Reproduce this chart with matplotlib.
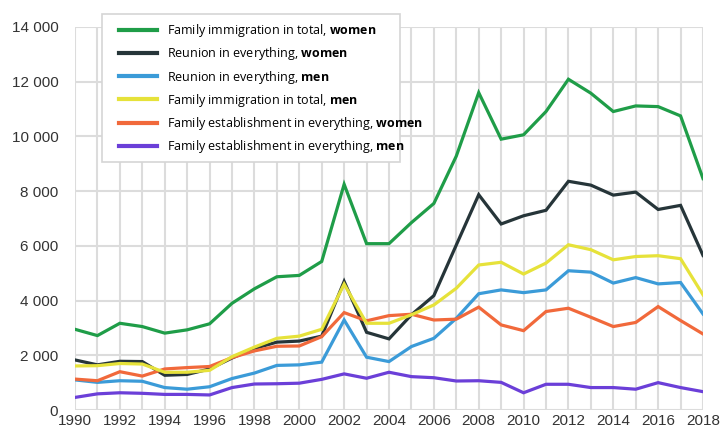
import numpy as np
import matplotlib
matplotlib.use('Agg')
import matplotlib.pyplot as plt
from matplotlib.patches import Rectangle
from matplotlib.ticker import FuncFormatter, MultipleLocator

plt.rcParams['font.family'] = ['Liberation Sans', 'DejaVu Sans']
plt.rcParams['mathtext.fontset'] = 'custom'
plt.rcParams['mathtext.rm'] = 'Open Sans'
plt.rcParams['mathtext.bf'] = 'Open Sans:bold'

years = np.arange(1990, 2019)

# Family immigration in total, women
total_women = [2950, 2720, 3170, 3050, 2810, 2930, 3150, 3900, 4430, 4870,
               4920, 5430, 8250, 6080, 6080, 6850, 7550, 9280, 11600, 9900,
               10060, 10910, 12090, 11580, 10910, 11115, 11090, 10750, 8460]
# Reunion in everything, women
reunion_women = [1830, 1650, 1780, 1770, 1270, 1300, 1500, 1900, 2250, 2480,
                 2520, 2700, 4700, 2840, 2600, 3480, 4180, 6030, 7870, 6800,
                 7100, 7300, 8360, 8220, 7855, 7965, 7330, 7480, 5650]
# Reunion in everything, men
reunion_men = [1100, 1010, 1070, 1050, 820, 760, 850, 1150, 1350, 1630,
               1650, 1750, 3290, 1930, 1770, 2320, 2620, 3350, 4250, 4390,
               4290, 4390, 5090, 5040, 4640, 4840, 4610, 4660, 3510]
# Family immigration in total, men
total_men = [1610, 1620, 1700, 1680, 1380, 1380, 1450, 1950, 2300, 2620,
             2700, 2950, 4600, 3170, 3170, 3480, 3840, 4450, 5300, 5400,
             4970, 5370, 6040, 5860, 5490, 5610, 5640, 5530, 4210]
# Family establishment in everything, women
establish_women = [1130, 1070, 1400, 1240, 1500, 1550, 1590, 1915, 2160, 2330,
                   2340, 2680, 3560, 3260, 3450, 3500, 3290, 3320, 3760, 3110,
                   2900, 3600, 3720, 3390, 3050, 3200, 3780, 3270, 2780]
# Family establishment in everything, men
establish_men = [460, 590, 630, 610, 570, 570, 550, 820, 950, 960,
                 980, 1120, 1320, 1160, 1380, 1220, 1180, 1060, 1070, 1010,
                 630, 940, 940, 820, 820, 760, 1000, 820, 670]

series = [
    (total_women, '#1f9d48', r'Family immigration in total, $\bf{women}$', 6),
    (reunion_women, '#263539', r'Reunion in everything, $\bf{women}$', 2),
    (reunion_men, '#3b9bd8', r'Reunion in everything, $\bf{men}$', 3),
    (total_men, '#e6e23a', r'Family immigration in total, $\bf{men}$', 5),
    (establish_women, '#f1693b', r'Family establishment in everything, $\bf{women}$', 4),
    (establish_men, '#6b3fd8', r'Family establishment in everything, $\bf{men}$', 3),
]

W, H = 721, 430
fig = plt.figure(figsize=(W / 100, H / 100), dpi=100)
ax = fig.add_axes([75 / W, 20 / H, 628 / W, 383 / H])

for vals, color, label, z in series:
    ax.plot(years, vals, color=color, lw=2.3, label=label, zorder=z,
            solid_joinstyle='miter')

ax.set_xlim(1990, 2018)
ax.set_ylim(0, 14000)
ax.xaxis.set_major_locator(MultipleLocator(2))
ax.xaxis.set_minor_locator(MultipleLocator(1))
ax.yaxis.set_major_locator(MultipleLocator(2000))
ax.yaxis.set_major_formatter(FuncFormatter(lambda v, p: f'{int(v):,}'.replace(',', ' ')))

ax.grid(True, which='both', axis='x', color='#dcdcdc', lw=1.5, zorder=0)
ax.grid(True, which='major', axis='y', color='#dcdcdc', lw=1.5, zorder=0)
ax.set_axisbelow(True)
for s in ax.spines.values():
    s.set_visible(False)
ax.tick_params(which='both', length=0, labelsize=11, colors='#333333')
ax.tick_params(axis='y', pad=12)
ax.tick_params(axis='x', pad=3)

# legend box drawn separately so the padding can differ left/top
frame = Rectangle((102 / W, 1 - 162 / H), 298 / W, 148 / H, transform=fig.transFigure,
                  facecolor='white', edgecolor='#d5d5d5', lw=1.2, zorder=9,
                  clip_on=False)
ax.add_patch(frame)

leg = ax.legend(loc='upper left', bbox_to_anchor=(119 / W, 1 - 22 / H),
                bbox_transform=fig.transFigure, borderaxespad=0, borderpad=0,
                prop={'family': 'Open Sans', 'size': 9},
                frameon=False, handlelength=3.0, handletextpad=0.85,
                labelspacing=0.5)
for line in leg.get_lines():
    line.set_linewidth(3)
leg.set_zorder(10)

fig.savefig('out.png', dpi=100)
